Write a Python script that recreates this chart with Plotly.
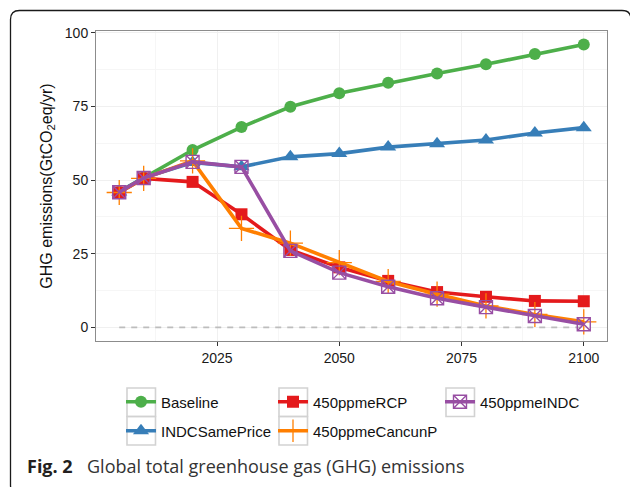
import plotly.graph_objects as go

# ---- data ----
years = [2005, 2010, 2020, 2030, 2040, 2050, 2060, 2070, 2080, 2090, 2100]
baseline = [46.0, 50.8, 60.2, 68.0, 74.9, 79.5, 83.0, 86.2, 89.3, 92.8, 96.0]
indc_same_price = [46.0, 50.8, 56.0, 54.5, 57.9, 59.0, 61.2, 62.3, 63.6, 66.0, 67.8]
ppme450_rcp = [45.8, 50.6, 49.4, 38.4, 26.3, 20.4, 15.8, 12.0, 10.4, 9.0, 8.9]
ppme450_cancunp = [45.8, 50.6, 56.5, 33.6, 28.6, 22.0, 15.6, 11.3, 7.3, 4.4, 1.9]
ppme450_indc = [45.9, 50.7, 56.2, 54.5, 26.0, 18.6, 13.8, 9.9, 6.9, 3.9, 1.1]
zero_ref = [0, 0]

x_ticks = [2025, 2050, 2075, 2100]
y_ticks = [0, 25, 50, 75, 100]

# ---- layout geometry (pixels) ----
W, H = 630, 487
L, R, T, B = 96, 607, 31, 341


def px_x(px):
    return (px - L) / (R - L)


def px_y(py):
    return (B - py) / (B - T)


series = [
    ("Baseline", baseline, "#4DAF4A",
     dict(symbol="circle", size=12), "legend"),
    ("INDCSamePrice", indc_same_price, "#377EB8",
     dict(symbol="triangle-up", size=14), "legend2"),
    ("450ppmeRCP", ppme450_rcp, "#E41A1C",
     dict(symbol="square", size=12), "legend3"),
    ("450ppmeCancunP", ppme450_cancunp, "#FF7F00",
     dict(symbol="cross-thin-open", size=18, line=dict(width=1.3, color="#FF7F00")), "legend4"),
    ("450ppmeINDC", ppme450_indc, "#984EA3",
     dict(symbol="square-x-open", size=13, line=dict(width=1.4, color="#984EA3")), "legend5"),
]

fig = go.Figure()

# dashed zero reference
fig.add_trace(go.Scatter(
    x=[years[0], years[-1]], y=zero_ref, mode="lines",
    line=dict(color="#BDBDBD", width=1.8, dash="6px,6px"),
    showlegend=False, hoverinfo="skip"))

for name, vals, color, marker, leg in series:
    m = dict(color=color, **marker)
    fig.add_trace(go.Scatter(
        x=years, y=vals, mode="lines+markers", name=name,
        line=dict(color=color, width=3.6), marker=m, legend=leg))

# legend entries: column-major, one legend per entry
legend_pos = {
    "legend": (127, 402),
    "legend2": (127, 431),
    "legend3": (279, 402),
    "legend4": (279, 431),
    "legend5": (446, 402),
}
leg_font = dict(family="Liberation Sans, Arial", size=15, color="#111111")
legend_layout = {}
for key, (bx, cy) in legend_pos.items():
    legend_layout[key] = dict(
        x=px_x(bx - 6), y=px_y(cy), xanchor="left", yanchor="middle",
        bgcolor="rgba(0,0,0,0)", borderwidth=0, font=leg_font,
        itemclick=False, itemdoubleclick=False)

# key boxes around legend symbols
shapes = []
for bx, by in [(127, 388), (127, 416.5), (279, 388), (279, 416.5), (446, 388)]:
    shapes.append(dict(
        type="rect", xref="paper", yref="paper",
        x0=px_x(bx), x1=px_x(bx + 28.5), y0=px_y(by), y1=px_y(by + 28.5),
        line=dict(color="#D2D2D2", width=1.6), fillcolor="rgba(0,0,0,0)", layer="below"))

# rounded outer frame
fx0, fy0, fx1, fy1, rad = 10.5, 10.5, 631, 494, 9
pts = [
    ("M", [(fx0 + rad, fy0)]),
    ("L", [(fx1 - rad, fy0)]),
    ("Q", [(fx1, fy0), (fx1, fy0 + rad)]),
    ("L", [(fx1, fy1 - rad)]),
    ("Q", [(fx1, fy1), (fx1 - rad, fy1)]),
    ("L", [(fx0 + rad, fy1)]),
    ("Q", [(fx0, fy1), (fx0, fy1 - rad)]),
    ("L", [(fx0, fy0 + rad)]),
    ("Q", [(fx0, fy0), (fx0 + rad, fy0)]),
]
path = ""
for cmd, coords in pts:
    path += cmd + " ".join(f"{px_x(a):.5f},{px_y(b):.5f}" for a, b in coords) + " "
path += "Z"
shapes.append(dict(type="path", xref="paper", yref="paper", path=path,
                   line=dict(color="#1a1a1a", width=1.3)))

annotations = [
    dict(text="<b>Fig. 2</b>", xref="paper", yref="paper", x=px_x(25), y=px_y(466),
         xanchor="left", yanchor="middle", showarrow=False,
         font=dict(family="Open Sans", size=18, color="#231F20")),
    dict(text="Global total greenhouse gas (GHG) emissions", xref="paper", yref="paper",
         x=px_x(85), y=px_y(466), xanchor="left", yanchor="middle", showarrow=False,
         font=dict(family="Open Sans", size=18, color="#333333")),
]

axis_common = dict(
    showline=True, linecolor="#8C8C8C", linewidth=1, mirror=True,
    ticks="outside", ticklen=4, tickcolor="#333333", tickwidth=1,
    showgrid=True, gridcolor="#F0F0F0", gridwidth=1, zeroline=False,
    tickfont=dict(family="Liberation Sans, Arial", size=14, color="#1a1a1a"),
)

fig.update_layout(
    width=W, height=H,
    margin=dict(l=L, r=W - R, t=T, b=H - B),
    paper_bgcolor="white", plot_bgcolor="white",
    xaxis=dict(range=[2000.25, 2104.75], tickvals=x_ticks,
               minor=dict(dtick=12.5, tick0=2000, showgrid=True, gridcolor="#F6F6F6", ticks=""),
               **axis_common),
    yaxis=dict(range=[-4.6, 100.6], tickvals=y_ticks,
               minor=dict(dtick=12.5, tick0=0, showgrid=True, gridcolor="#F6F6F6", ticks=""),
               title=dict(text="GHG emissions(GtCO<sub>2</sub>eq/yr)", standoff=8,
                          font=dict(family="Liberation Sans, Arial", size=16, color="#111111")),
               **axis_common),
    shapes=shapes,
    annotations=annotations,
    **legend_layout,
)

fig.write_html("out.html")
